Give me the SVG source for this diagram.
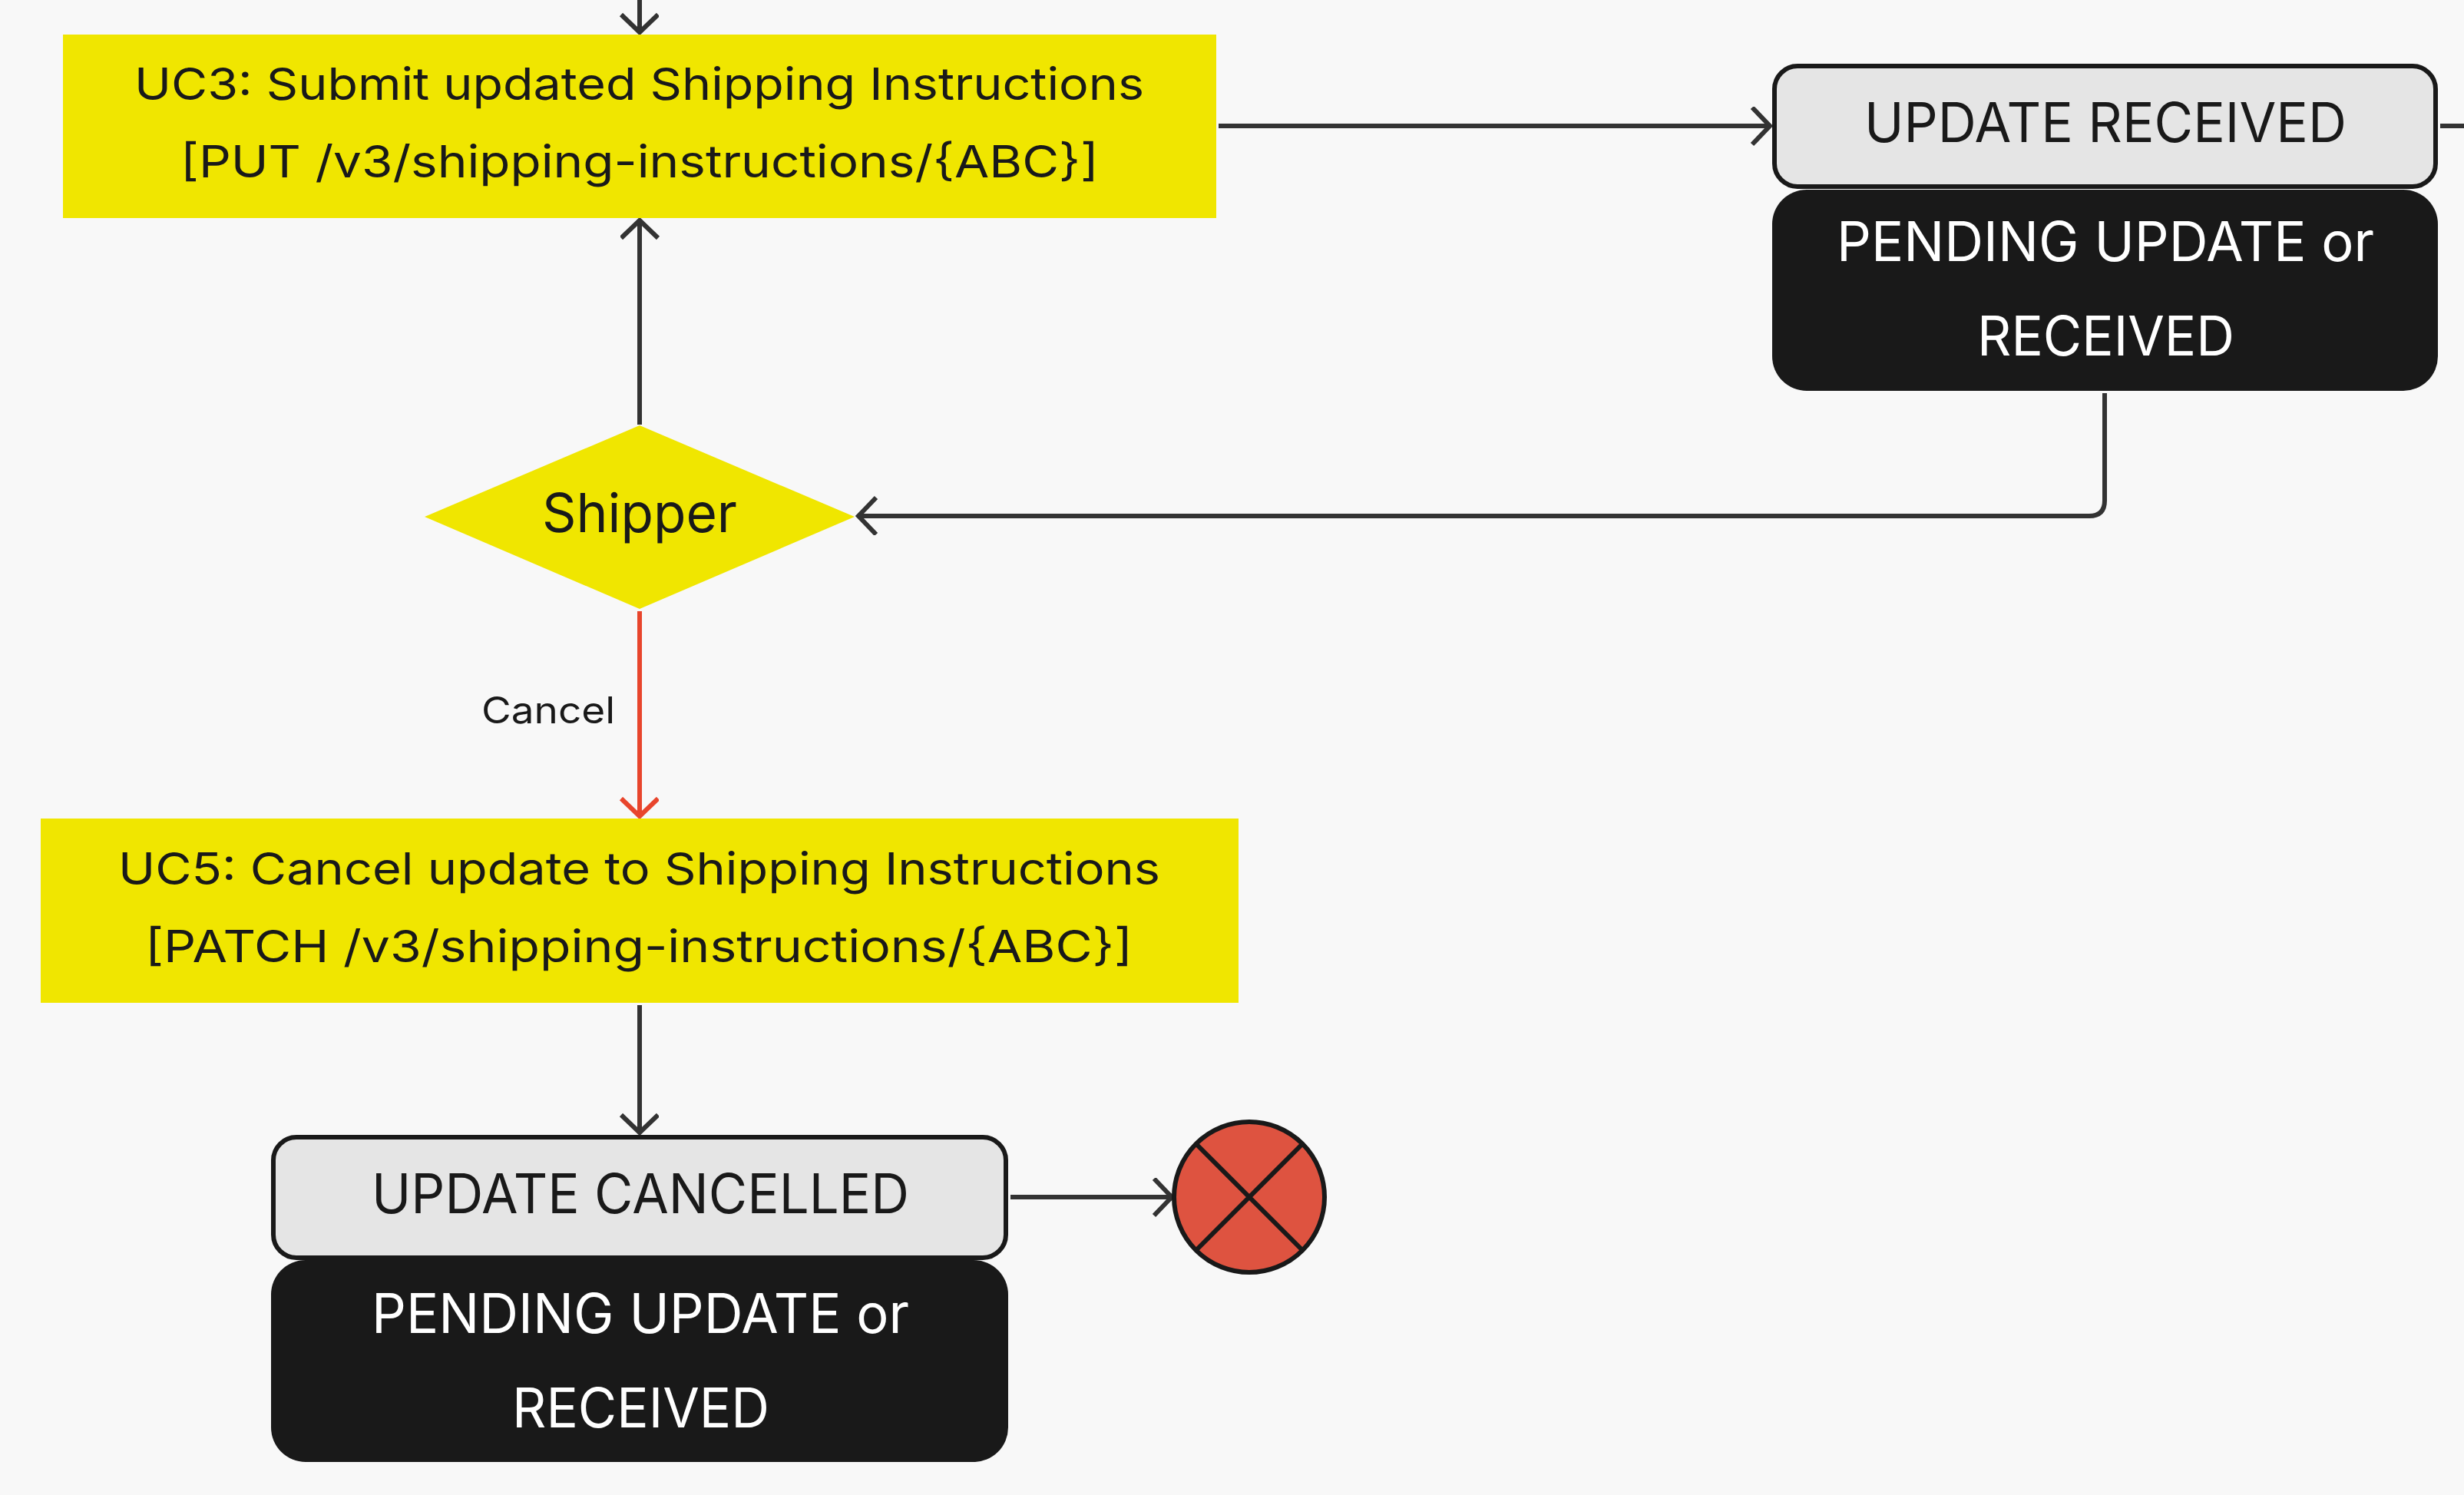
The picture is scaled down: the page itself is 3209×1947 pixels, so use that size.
<svg xmlns="http://www.w3.org/2000/svg" width="3209" height="1947" viewBox="0 0 3209 1947">
<defs>
<marker id="ah" markerUnits="userSpaceOnUse" markerWidth="50" markerHeight="60" refX="29" refY="25" orient="auto"><path d="M5 1 L28 25 L5 49" fill="none" stroke="#333333" stroke-width="6"/></marker>
<marker id="ahr" markerUnits="userSpaceOnUse" markerWidth="50" markerHeight="60" refX="29" refY="25" orient="auto"><path d="M5 1 L28 25 L5 49" fill="none" stroke="#e8452c" stroke-width="6"/></marker>
</defs>
<style>
text{font-family:"Inter","Liberation Sans",sans-serif;}
.y{fill:#f0e600}
.g{fill:#e5e5e5;stroke:#191919;stroke-width:6}
.k{fill:#191919}
.c{fill:none;stroke:#333333;stroke-width:6}
.t{fill:#191919}
.l{font-size:58px}
.m{font-size:71px}
.w{fill:#ffffff}
</style>
<rect width="3209" height="1947" fill="#f8f8f8"/>
<g id="connectors">
<path class="c" d="M833 0V43" marker-end="url(#ah)"/>
<path class="c" d="M833 553V286" marker-end="url(#ah)"/>
<path class="c" d="M1587 164H2306" marker-end="url(#ah)"/>
<path class="c" d="M3178 164H3209"/>
<path class="c" d="M2741 512V652Q2741 672 2721 672H1117" marker-end="url(#ah)"/>
<path d="M833 796V1064" fill="none" stroke="#e8452c" stroke-width="6" marker-end="url(#ahr)"/>
<path class="c" d="M833 1309V1476" marker-end="url(#ah)"/>
<path class="c" d="M1316 1559H1527" marker-end="url(#ah)"/>
<text class="t" x="627" y="942" font-size="48" textLength="174" lengthAdjust="spacingAndGlyphs">Cancel</text>
</g>
<g id="uc3">
<rect class="y" x="82" y="45" width="1502" height="239"/>
<text class="t l" x="175" y="130" textLength="1315" lengthAdjust="spacingAndGlyphs">UC3: Submit updated Shipping Instructions</text>
<text class="t l" x="235" y="231" textLength="1196" lengthAdjust="spacingAndGlyphs">[PUT /v3/shipping-instructions/{ABC}]</text>
</g>
<g id="update-received">
<rect class="g" x="2311" y="86" width="861" height="157" rx="30"/>
<text class="t m" x="2428" y="185" textLength="628" lengthAdjust="spacingAndGlyphs">UPDATE RECEIVED</text>
</g>
<g id="pending-received">
<rect class="k" x="2308" y="247" width="867" height="262" rx="45"/>
<text class="w m" x="2392" y="340" textLength="700" lengthAdjust="spacingAndGlyphs">PENDING UPDATE or</text>
<text class="w m" x="2575" y="463" textLength="335" lengthAdjust="spacingAndGlyphs">RECEIVED</text>
</g>
<g id="shipper">
<polygon class="y" points="553,673 833,554 1113,673 833,793"/>
<text class="t" x="706" y="693" font-size="70" textLength="254" lengthAdjust="spacingAndGlyphs">Shipper</text>
</g>
<g id="uc5">
<rect class="y" x="53" y="1066" width="1560" height="240"/>
<text class="t l" x="154" y="1152" textLength="1357" lengthAdjust="spacingAndGlyphs">UC5: Cancel update to Shipping Instructions</text>
<text class="t l" x="189" y="1253" textLength="1286" lengthAdjust="spacingAndGlyphs">[PATCH /v3/shipping-instructions/{ABC}]</text>
</g>
<g id="update-cancelled">
<rect class="g" x="356" y="1481" width="954" height="157" rx="30"/>
<text class="t m" x="484" y="1580" textLength="700" lengthAdjust="spacingAndGlyphs">UPDATE CANCELLED</text>
</g>
<g id="pending-cancelled">
<rect class="k" x="353" y="1641" width="960" height="263" rx="45"/>
<text class="w m" x="484" y="1736" textLength="700" lengthAdjust="spacingAndGlyphs">PENDING UPDATE or</text>
<text class="w m" x="667" y="1859" textLength="335" lengthAdjust="spacingAndGlyphs">RECEIVED</text>
</g>
<g id="end">
<circle cx="1627" cy="1559" r="98" fill="#de5340" stroke="#191919" stroke-width="6"/>
<path d="M1558 1490L1696 1628M1696 1490L1558 1628" fill="none" stroke="#191919" stroke-width="6"/>
</g>
</svg>
